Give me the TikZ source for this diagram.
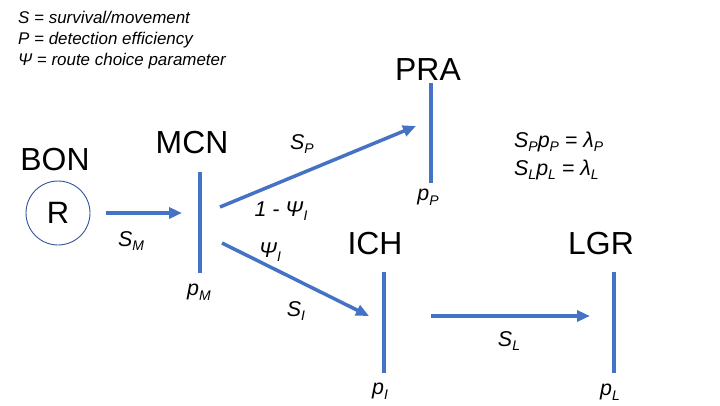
\documentclass[tikz,border=0pt]{standalone}
\usepackage{fontspec}
\setmainfont{Liberation Sans}
\usetikzlibrary{arrows.meta}
\definecolor{lineblue}{HTML}{4472C4}
\definecolor{circblue}{HTML}{2F5597}
\newcommand\subtx[1]{\raisebox{-0.42ex}{\fontsize{14}{14}\selectfont\textit{#1}}}
\newcommand\lbl[2]{\textit{#1}\subtx{#2}}
\begin{document}
\begin{tikzpicture}[x=1bp,y=-1bp,
  site/.style={font=\fontsize{32}{32}\selectfont, inner sep=0pt},
  bar/.style={draw=none, fill=lineblue, minimum width=4bp, minimum height=#1, inner sep=0pt},
  flow/.style={draw=lineblue, line width=3.5bp, -{Triangle[length=13bp,width=11bp]}},
  lab/.style={font=\fontsize{21.5}{21.5}\selectfont, inner sep=0pt},
  legend/.style={font=\fontsize{17}{21}\selectfont\itshape, align=left, anchor=north west, inner sep=0pt}]
\useasboundingbox (0,0) rectangle (720,405);
% legend
\node[legend] (leg) at (18,11) {\textit{S} = survival/movement\\\textit{P} = detection efficiency\\\textit{Ψ} = route choice parameter};
% site names
\node[site] (bon) at (55,160) {BON};
\node[site] (mcn) at (192,143) {MCN};
\node[site] (pra) at (428,70) {PRA};
\node[site] (ich) at (375,244) {ICH};
\node[site] (lgr) at (601,244) {LGR};
% release circle
\node[circle, draw=circblue, line width=0.9bp, minimum size=64bp, inner sep=0pt, font=\fontsize{31}{31}\selectfont] (rel) at (58,213) {R};
% detection bars
\node[bar=101bp] (mcnbar) at (200,222) {};
\node[bar=100bp] (prabar) at (431,133) {};
\node[bar=101bp] (ichbar) at (384,322.5) {};
\node[bar=101bp] (lgrbar) at (614,322.5) {};
% detection labels
\node[lab] (pm) at (199,292) {\lbl{p}{M}};
\node[lab] (pp) at (428,197) {\lbl{p}{P}};
\node[lab] (pi) at (380,391) {\lbl{p}{I}};
\node[lab] (pl) at (610,392) {\lbl{p}{L}};
% arrow end points
\coordinate (a1s) at (106,213);
\coordinate (a1e) at (182,213);
\coordinate (a2s) at (220,207);
\coordinate (a2e) at (416,126);
\coordinate (a3s) at (222,243);
\coordinate (a3e) at (369,316);
\coordinate (a4s) at (431,316);
\coordinate (a4e) at (590,316);
\draw[flow] (a1s) -- (a1e);
\draw[flow] (a2s) -- (a2e);
\draw[flow] (a3s) -- (a3e);
\draw[flow] (a4s) -- (a4e);
% arrow labels
\node[lab] (sm) at (131,241) {\lbl{S}{M}};
\node[lab] (sp) at (302,144) {\lbl{S}{P}};
\node[lab] (omp) at (281,211) {\textit{1 - }\lbl{Ψ}{I}};
\node[lab] (psi) at (270,252) {\lbl{Ψ}{I}};
\node[lab] (si) at (296,311) {\lbl{S}{I}};
\node[lab] (sl) at (509,341) {\lbl{S}{L}};
% equations
\node[lab, anchor=base west] (eq1) at (514,147) {\lbl{S}{P}\lbl{p}{P} \textit{= λ}\subtx{P}};
\node[lab, anchor=base west] (eq2) at (514,175) {\lbl{S}{L}\lbl{p}{L} \textit{= λ}\subtx{L}};
\end{tikzpicture}
\end{document}
